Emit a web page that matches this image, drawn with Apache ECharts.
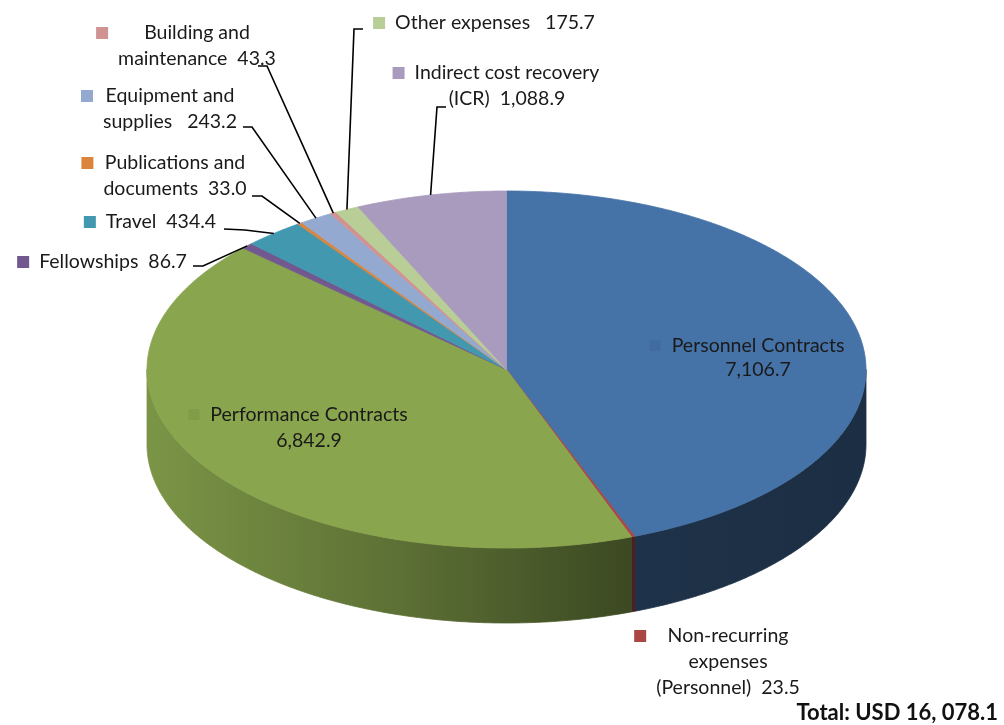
<!DOCTYPE html>
<html><head><meta charset="utf-8">
<script src="https://cdn.jsdelivr.net/npm/echarts@6/dist/echarts.min.js"></script>
<style>html,body{margin:0;padding:0;background:#fff}#c{width:1004px;height:725px}</style>
</head><body><div id="c"></div>
<script>
// ---- data ----
const categories = ['Personnel Contracts', 'Non-recurring expenses (Personnel)', 'Performance Contracts', 'Fellowships', 'Travel', 'Publications and documents', 'Equipment and supplies', 'Building and maintenance', 'Other expenses', 'Indirect cost recovery (ICR)'];
const values = [7106.7, 23.5, 6842.9, 86.7, 434.4, 33.0, 243.2, 43.3, 175.7, 1088.9];
const labelLines = [
  ['Personnel Contracts', '{v}'],
  ['Non-recurring', 'expenses', '(Personnel)  {v}'],
  ['Performance Contracts', '{v}'],
  ['Fellowships  {v}'],
  ['Travel  {v}'],
  ['Publications and', 'documents  {v}'],
  ['Equipment and', 'supplies   {v}'],
  ['Building and', 'maintenance  {v}'],
  ['Other expenses   {v}'],
  ['Indirect cost recovery', '(ICR)  {v}']
];
const totalLabel = 'Total: USD 16, 078.1';

// ---- styles / layout ----
const colors = ['#4572A7', '#AA4643', '#89A54E', '#71588F', '#4198AF', '#DB843D', '#93A9CF', '#D19392', '#B9CD96', '#A99BBD'];
const CX = 506.5, CY = 369.5, RX = 359.5, RY = 178.5, DEPTH = 75;
const FONT_SIZE = 19.5, FONT_FAMILY = 'Lato', LINE_H = 25.5;
// label block: center x, first-line center y, leader elbow/end points (label layout only)
const labelLayout = [
  { cx: 758, y: 346, lh: 24 },
  { cx: 728, y: 636, lh: 26 },
  { cx: 309, y: 415, lh: 26 },
  { cx: 113, y: 262, leader: [[203, 266], [193, 266]] },
  { cx: 161, y: 222, leader: [[245, 230], [224, 229]] },
  { cx: 175, y: 163, leader: [[262, 196], [252, 196]] },
  { cx: 170, y: 96, leader: [[252, 127], [243, 127]] },
  { cx: 197, y: 33, leader: [[267, 66], [258, 66]] },
  { cx: 495, y: 23, leader: [[354, 29], [363, 29]] },
  { cx: 507, y: 73, leader: [[437, 107], [446, 107]] }
];

const total = values.reduce((a, b) => a + b, 0);
const starts = []; { let acc = 0; values.forEach(v => { starts.push(acc); acc += v; }); }
const fmt = v => v.toLocaleString('en-US', { minimumFractionDigits: 1, maximumFractionDigits: 1 });
const font = FONT_SIZE + 'px ' + FONT_FAMILY;
const mctx = document.createElement('canvas').getContext('2d');
function textW(t, f) { mctx.font = f; return mctx.measureText(t).width; }

function shade(hex, f) {
  const n = parseInt(hex.slice(1), 16);
  const r = Math.round(((n >> 16) & 255) * f), g = Math.round(((n >> 8) & 255) * f), b = Math.round((n & 255) * f);
  return 'rgb(' + r + ',' + g + ',' + b + ')';
}
function sideFill(hex) {
  return {
    type: 'linear', x: CX - RX, y: 0, x2: CX + RX, y2: 0, global: true,
    colorStops: [
      { offset: 0, color: shade(hex, 0.9) },
      { offset: 0.35, color: shade(hex, 0.68) },
      { offset: 0.67, color: shade(hex, 0.44) },
      { offset: 1, color: shade(hex, 0.4) }
    ]
  };
}

function renderItem(params, api) {
  const i = api.value(0);
  const s = starts[i], e = s + values[i];
  const c0 = api.coord([0, 0]);
  const ell = (a, dy) => { const p = api.coord([1, a]); return [p[0], c0[1] + (p[1] - c0[1]) * RY / RX + (dy || 0)]; };
  const arc = (a0, a1, dy) => {
    const n = Math.max(2, Math.ceil((a1 - a0) / total * 720));
    const pts = [];
    for (let k = 0; k <= n; k++) pts.push(ell(a0 + (a1 - a0) * k / n, dy));
    return pts;
  };
  const children = [];
  const col = colors[i];
  // top face
  const top = [c0].concat(arc(s, e, 0));
  children.push({ type: 'polygon', z2: 10, shape: { points: top }, style: { fill: col, stroke: col, lineWidth: 0.8 } });
  // front side wall
  const fs = Math.max(s, total * 0.25), fe = Math.min(e, total * 0.75);
  if (fe > fs) {
    const upper = arc(fs, fe, 0);
    const lower = arc(fs, fe, DEPTH).reverse();
    const g = sideFill(col);
    children.push({ type: 'polygon', z2: 1, shape: { points: upper.concat(lower) }, style: { fill: g, stroke: g, lineWidth: 0.8 } });
  }
  // label
  const L = labelLayout[i];
  const lines = labelLines[i].map(t => t.replace('{v}', fmt(values[i])));
  const lh = L.lh || LINE_H;
  let maxW = 0;
  lines.forEach(t => { maxW = Math.max(maxW, textW(t, font)); });
  lines.forEach((t, k) => {
    children.push({ type: 'text', z2: 30, x: L.cx, y: L.y + k * lh,
      style: { text: t, fill: '#1a1a1a', font: font, textAlign: 'center', textVerticalAlign: 'middle' } });
  });
  const left = L.cx - maxW / 2;
  const inside = (i === 0 || i === 2);
  children.push({ type: 'rect', z2: 30, shape: { x: left - 22, y: L.y - 6, width: inside ? 11 : 12, height: inside ? 11 : 12 },
    style: { fill: inside ? shade(col, 0.95) : col } });
  if (L.leader) {
    const mid = ell((s + e) / 2, 0);
    children.push({ type: 'polyline', z2: 25, shape: { points: [mid].concat(L.leader) },
      style: { stroke: '#000', lineWidth: 1.6, fill: null } });
  }
  return { type: 'group', children: children };
}

const chart = echarts.init(document.getElementById('c'), null, { renderer: 'canvas' });
chart.setOption({
  animation: false,
  backgroundColor: '#fff',
  polar: { center: [CX, CY], radius: RX },
  angleAxis: { type: 'value', min: 0, max: total, startAngle: 90, clockwise: true, show: false },
  radiusAxis: { type: 'value', min: 0, max: 1, show: false },
  series: [{
    type: 'custom',
    coordinateSystem: 'polar',
    renderItem: renderItem,
    clip: false,
    data: values.map((v, i) => ({ name: categories[i], value: [i, v] }))
  }],
  graphic: [{
    type: 'text', right: 6, top: 702,
    style: { text: totalLabel, fill: '#111', font: 'bold 22px ' + FONT_FAMILY }
  }]
});
</script>
</body></html>
